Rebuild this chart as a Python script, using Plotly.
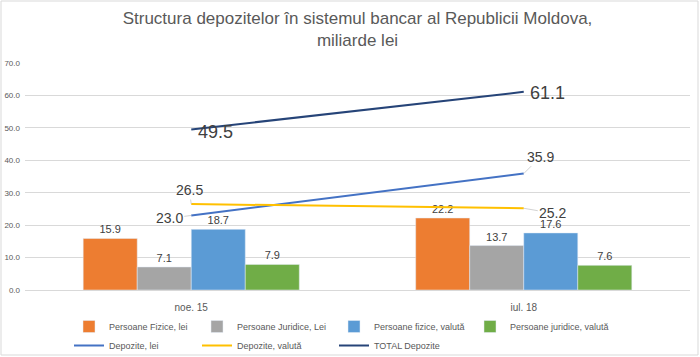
import plotly.graph_objects as go

categories = ["noe. 15", "iul. 18"]
pf_lei = [15.9, 22.2]
pj_lei = [7.1, 13.7]
pf_val = [18.7, 17.6]
pj_val = [7.9, 7.6]
dep_lei = [23.0, 35.9]
dep_val = [26.5, 25.2]
dep_total = [49.5, 61.1]

L, R, T, B = 25, 10, 63, 67
W, H = 700, 357
PW, PH = W - L - R, H - T - B

def px_x(p):
    return (p - L) / PW

def px_y(p):
    return (H - B - p) / PH

FONT = "Liberation Sans"
TXT = "#404040"
GRAY = "#595959"

fig = go.Figure()

bars = [
    ("Persoane Fizice, lei", pf_lei, "#ED7D31", "legend"),
    ("Persoane Juridice, Lei", pj_lei, "#A5A5A5", "legend2"),
    ("Persoane fizice, valută", pf_val, "#5B9BD5", "legend3"),
    ("Persoane juridice, valută", pj_val, "#70AD47", "legend4"),
]
for name, vals, col, lg in bars:
    fig.add_trace(go.Bar(
        name=name, x=categories, y=vals, marker_color=col,
        text=[f"{v:.1f}" for v in vals], textposition="outside",
        textfont=dict(size=11, color=TXT, family=FONT),
        cliponaxis=False, legend=lg,
    ))

lines = [
    ("Depozite, lei", dep_lei, "#4472C4", "legend"),
    ("Depozite, valută", dep_val, "#FFC000", "legend2"),
    ("TOTAL Depozite", dep_total, "#264478", "legend3"),
]
for name, vals, col, lg in lines:
    fig.add_trace(go.Scatter(
        name=name, x=categories, y=vals, mode="lines",
        line=dict(color=col, width=2), legend=lg, cliponaxis=False,
    ))

# line labels: (series, index, dx, dy, size, leader)
label_specs = [
    (dep_lei, 0, -22, 3, 14, True),
    (dep_lei, 1, 17, -17, 14, True),
    (dep_val, 0, -2, -14, 14, True),
    (dep_val, 1, 29, 5, 14, True),
    (dep_total, 0, 24, 3, 18, False),
    (dep_total, 1, 24, 1, 18, False),
]
for series, i, dx, dy, size, leader in label_specs:
    fig.add_annotation(
        x=categories[i], y=series[i], text=f"{series[i]:.1f}",
        showarrow=True, ax=dx, ay=dy, arrowhead=0, arrowwidth=0.7,
        arrowcolor="#BFBFBF" if leader else "rgba(0,0,0,0)",
        standoff=0, startstandoff=0,
        font=dict(size=size, color=TXT, family=FONT),
    )

legend_common = dict(
    orientation="v", yanchor="top", xanchor="left",
    xref="container", yref="container",
    font=dict(size=9, color=GRAY, family=FONT),
    bgcolor="rgba(0,0,0,0)", tracegroupgap=0, itemwidth=30,
    traceorder="normal",
)
leg_x = [69, 197, 334, 470]
ly = 1 - 312 / H

fig.update_layout(
    width=W, height=H,
    margin=dict(l=L, r=R, t=T, b=B, autoexpand=False),
    paper_bgcolor="white", plot_bgcolor="white",
    title=dict(
        text="Structura depozitelor în sistemul bancar al Republicii Moldova,<br>miliarde lei",
        x=0.5, xanchor="center", xref="paper", yref="container",
        y=1 - 24 / H, yanchor="middle",
        font=dict(size=17, color=GRAY, family=FONT),
    ),
    barmode="group", bargap=0.35, bargroupgap=0,
    showlegend=True,
    legend=dict(x=leg_x[0] / W, y=ly, **legend_common),
    legend2=dict(x=leg_x[1] / W, y=ly, **legend_common),
    legend3=dict(x=leg_x[2] / W, y=ly, **legend_common),
    legend4=dict(x=leg_x[3] / W, y=ly, **legend_common),
    xaxis=dict(
        type="category", showgrid=False, showline=True, linecolor="#D9D9D9",
        tickfont=dict(size=10, color=GRAY, family=FONT), ticks="",
        ticklabelstandoff=8, automargin=False,
    ),
    yaxis=dict(
        range=[0, 70], dtick=10, tickformat=".1f",
        gridcolor="#D9D9D9", zeroline=False, showline=False,
        tickfont=dict(size=8, color=GRAY, family=FONT),
        ticklabelstandoff=4, automargin=False,
    ),
)

fig.add_shape(
    type="rect", xref="paper", yref="paper", layer="below",
    x0=px_x(1), x1=px_x(698), y0=px_y(355), y1=px_y(1),
    line=dict(color="#D9D9D9", width=1), fillcolor="rgba(0,0,0,0)",
)

fig.write_html(
    "out.html",
    config={"displayModeBar": False},
    post_script="document.body.style.margin='0';document.body.style.overflow='hidden';",
)
